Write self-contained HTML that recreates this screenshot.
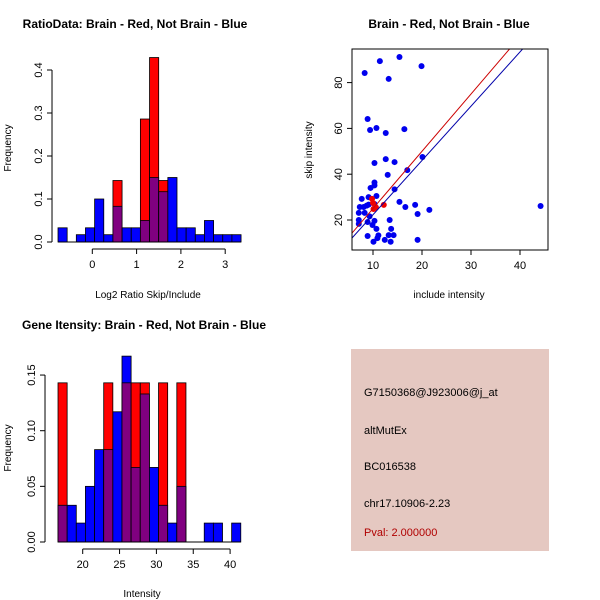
<!DOCTYPE html>
<html><head><meta charset="utf-8"><style>
body{margin:0;background:#fff}
svg{display:block;font-family:"Liberation Sans",sans-serif}
.t{font-weight:bold;font-size:12px}
.k{font-size:11px}
.l{font-size:10px}
</style></head><body>
<svg id="s" width="600" height="600">
<text class="t" x="135" y="28" text-anchor="middle">RatioData: Brain - Red, Not Brain - Blue</text>
<text class="t" x="449" y="28" text-anchor="middle">Brain - Red, Not Brain - Blue</text>
<text class="t" x="144" y="329" text-anchor="middle">Gene Itensity: Brain - Red, Not Brain - Blue</text>
<text class="l" x="148" y="298" text-anchor="middle">Log2 Ratio Skip/Include</text>
<text class="l" x="449" y="298" text-anchor="middle">include intensity</text>
<text class="l" x="142" y="597" text-anchor="middle">Intensity</text>
<text class="l" transform="translate(11,148) rotate(-90)" text-anchor="middle">Frequency</text>
<text class="l" transform="translate(312,150) rotate(-90)" text-anchor="middle">skip intensity</text>
<text class="l" transform="translate(11,448) rotate(-90)" text-anchor="middle">Frequency</text>
<rect x="351" y="349" width="198" height="202" fill="#e5c8c1"/>
<g font-size="11px">
<text x="364" y="396">G7150368@J923006@j_at</text>
<text x="364" y="434">altMutEx</text>
<text x="364" y="470">BC016538</text>
<text x="364" y="507">chr17.10906-2.23</text>
<text x="364" y="536" fill="#b00000">Pval: 2.000000</text>
</g>
<g id="g1"></g><g id="g2"></g><g id="g3"></g>
</svg>
<script>
const ratioBlue=[0.033,0,0.017,0.033,0.1,0.017,0.083,0.033,0.033,0.05,0.15,0.117,0.15,0.033,0.033,0.017,0.05,0.017,0.017,0.017];
const ratioRed=[0,0,0,0,0,0,0.143,0,0,0.286,0.429,0.143,0,0,0,0,0,0,0,0];
const ratioStart=-0.774, ratioStep=0.2066;
const ratioYTicks=[0,0.1,0.2,0.3,0.4];
const ratioXTicks=[0,1,2,3];
const intBlue=[0.033,0.033,0.017,0.05,0.083,0.083,0.117,0.167,0.067,0.133,0.067,0.033,0.017,0.05,0,0,0.017,0.017,0,0.017];
const intRed=[0.143,0,0,0,0,0.143,0,0.143,0.143,0.143,0,0.143,0,0.143,0,0,0,0,0,0];
const intStart=16.65, intStep=1.24;
const intYTicks=[0,0.05,0.10,0.15];
const intYLabels=["0.00","0.05","0.10","0.15"];
const intXTicks=[20,25,30,35,40];
const scatBlueX=[15.4,11.4,8.3,19.9,13.2,8.9,9.4,10.7,12.6,16.4,12.6,14.4,10.3,20.1,17.0,13.0,10.3,10.3,9.5,14.4,10.7,9.1,7.7,7.3,8.1,8.7,9.1,10.3,15.4,18.6,16.6,21.5,19.1,44.2,7.1,8.3,7.1,7.1,8.9,10.3,9.9,13.4,10.7,13.7,8.9,11.1,13.2,14.2,10.9,12.4,10.1,13.6,19.1,9.3];
const scatBlueY=[91.2,89.4,84.2,87.2,81.6,64.1,59.3,60.2,58,59.7,46.6,45.3,44.9,47.5,41.8,39.7,36.4,35.1,34.0,33.4,30.5,30.0,29.2,25.7,25.7,26.3,26.7,27.0,27.9,26.6,25.7,24.4,22.6,26.1,23.1,23.1,20,18.3,19.1,19.6,17.8,20,16.1,16.1,13.0,13.3,13.4,13.4,12.1,11.3,10.5,10.5,11.3,21.6];
const scatRedX=[9.8,10.0,12.2,10.1,10.6];
const scatRedY=[29.2,27.4,26.6,24.8,25.5];
const redFit=[0,2.5];
const blueFit=[-1.4,2.37];
const scatXTicks=[10,20,30,40];
const scatYTicks=[20,40,60,80];
const NS="http://www.w3.org/2000/svg";
function mk(p,tag,a){const e=document.createElementNS(NS,tag);for(const k in a)e.setAttribute(k,a[k]);p.appendChild(e);return e;}
function hist(g,blue,red,start,step,xs,ys,yt,ytl,xt,pfx,gap){
  const n=blue.length;
  for(let i=0;i<n;i++){
    const x0=xs(start+i*step),x1=xs(start+(i+1)*step);
    if(red[i]>0){const r=mk(g,'rect',{x:x0,y:ys(red[i]),width:x1-x0,height:ys(0)-ys(red[i]),fill:'#ff0000',stroke:'#000','stroke-width':0.8});
      
      }
    if(blue[i]>0){const b=mk(g,'rect',{x:x0,y:ys(blue[i]),width:x1-x0,height:ys(0)-ys(blue[i]),fill:red[i]>0?'#800080':'#0000ff',stroke:'#000','stroke-width':0.8});
      if(red[i]>0&&blue[i]>red[i]){b.setAttribute('fill','#0000ff');mk(g,'rect',{x:x0,y:ys(red[i]),width:x1-x0,height:ys(0)-ys(red[i]),fill:'#800080',stroke:'#000','stroke-width':0.8});}
      
      }
  }
  const xa=xs(start),xb=xs(start+n*step);
  mk(g,'line',{x1:xa,x2:xb,y1:ys(0),y2:ys(0),stroke:'#000'});
  const ax=xa-gap;
  mk(g,'line',{x1:ax,x2:ax,y1:ys(yt[0]),y2:ys(yt[yt.length-1]),stroke:'#000'});
  yt.forEach((v,i)=>{mk(g,'line',{x1:ax-5,x2:ax,y1:ys(v),y2:ys(v),stroke:'#000'});
    const t=mk(g,'text',{transform:`translate(${ax-10},${ys(v)}) rotate(-90)`,'text-anchor':'middle','font-size':'11px'});t.textContent=ytl[i];
    
    });
  const ay=ys(0)+7;
  mk(g,'line',{x1:xs(xt[0]),x2:xs(xt[xt.length-1]),y1:ay,y2:ay,stroke:'#000'});
  xt.forEach(v=>{mk(g,'line',{x1:xs(v),x2:xs(v),y1:ay,y2:ay+5,stroke:'#000'});
    const t=mk(g,'text',{x:xs(v),y:ay+19,'text-anchor':'middle','font-size':'11px'});t.textContent=v;
    
    });
}
hist(document.getElementById('g1'),ratioBlue,ratioRed,ratioStart,ratioStep,v=>92.3+v*44.3,v=>242-v*430,ratioYTicks,["0.0","0.1","0.2","0.3","0.4"],ratioXTicks,'ratio',6);
hist(document.getElementById('g3'),intBlue,intRed,intStart,intStep,v=>82.7+(v-20)*7.37,v=>542-v*1113,intYTicks,intYLabels,intXTicks,'intensity',13);
const g2=document.getElementById('g2');
const sx=v=>373+(v-10)*4.9, sy=v=>220-(v-20)*2.29;
const L=352,R=548,T=49,B=250;
const xmin=(L-373)/4.9+10,xmax=(R-373)/4.9+10;
const cp=mk(g2,'clipPath',{id:'cp'});mk(cp,'rect',{x:L,y:T,width:R-L,height:B-T});
scatBlueX.forEach((x,i)=>{const c=mk(g2,'circle',{cx:sx(x),cy:sy(scatBlueY[i]),r:3,fill:'#0000ee'});
  
  });
scatRedX.forEach((x,i)=>{const c=mk(g2,'circle',{cx:sx(x),cy:sy(scatRedY[i]),r:3,fill:'#ee0000'});
  
  });
[[redFit,'#cc0000','red-fit-line'],[blueFit,'#0000aa','blue-fit-line']].forEach(([f,c,n])=>{
  const l=mk(g2,'line',{x1:sx(xmin),y1:sy(f[0]+f[1]*xmin),x2:sx(xmax),y2:sy(f[0]+f[1]*xmax),stroke:c,'stroke-width':1,'clip-path':'url(#cp)'});
  
  });
mk(g2,'rect',{x:L,y:T,width:R-L,height:B-T,fill:'none',stroke:'#000'});
scatXTicks.forEach(v=>{mk(g2,'line',{x1:sx(v),x2:sx(v),y1:B,y2:B+5,stroke:'#000'});
  const t=mk(g2,'text',{x:sx(v),y:B+19,'text-anchor':'middle','font-size':'11px'});t.textContent=v;
  
  });
scatYTicks.forEach(v=>{mk(g2,'line',{x1:L-5,x2:L,y1:sy(v),y2:sy(v),stroke:'#000'});
  const t=mk(g2,'text',{transform:`translate(${L-10},${sy(v)}) rotate(-90)`,'text-anchor':'middle','font-size':'11px'});t.textContent=v;
  
  });
</script>
</body></html>
